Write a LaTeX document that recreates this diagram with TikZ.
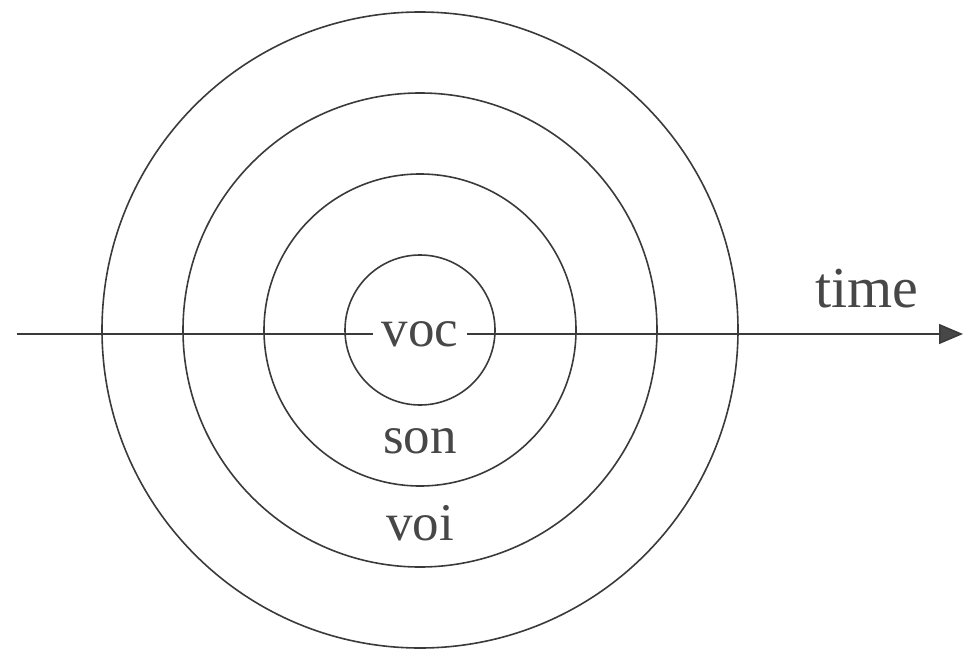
\documentclass[tikz,border=0pt]{standalone}
\usepackage{fontspec}
\setmainfont{Liberation Serif}
\usepackage{xcolor}
\usetikzlibrary{arrows.meta, positioning}
\definecolor{inkgray}{HTML}{3A3A3A}
\definecolor{textgray}{HTML}{474747}

\begin{document}
\begin{tikzpicture}[x=1pt,y=-1pt,
        ring/.style={draw=inkgray, line width=1.6pt},
        lbl/.style={text=textgray, font=\fontsize{53}{60}\selectfont, anchor=base},
        axis/.style={draw=inkgray, line width=1.6pt}]
    \useasboundingbox (0,0) rectangle (963,650);
    \coordinate (c) at (420,330);
    \foreach \r in {75,156,237,318}
        \draw[ring] (c) circle[radius=\r];

    \coordinate (tstart) at (17,334);
    \coordinate (tend) at (963,334);
    \node[lbl, anchor=center, inner xsep=9pt, inner ysep=2pt] (voc) at (420,334) {voc};
    \node[lbl] (son) at (420,453) {son};
    \node[lbl] (voi) at (420,540) {voi};
    \node[lbl, font=\fontsize{58}{64}\selectfont] (time) at (867,307) {time};

    \draw[axis] (tstart) -- (voc);
    \draw[axis, -{Triangle[length=24pt, width=20pt, fill=textgray]}] (voc) -- (tend);
\end{tikzpicture}
\end{document}
